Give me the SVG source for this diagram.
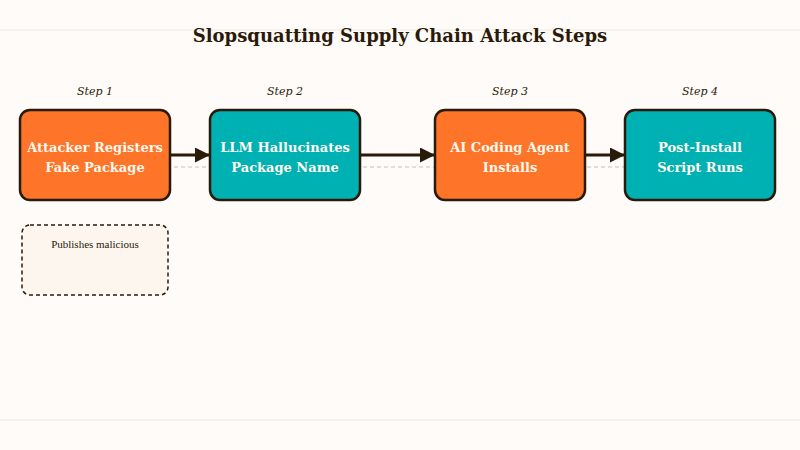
<svg xmlns="http://www.w3.org/2000/svg" width="800" height="450" viewBox="0 0 800 450">
<defs>
<marker id="ah" viewBox="0 0 10 10" refX="10" refY="5" markerWidth="5" markerHeight="5" orient="auto" markerUnits="strokeWidth"><path d="M0,0 L10,5 L0,10 z" fill="#2a1a0a"/></marker>
</defs>
<style>
.box{stroke:#2a1a0a;stroke-width:2.5}
.o{fill:#fe7429}.t{fill:#00b1b3}
.lbl{font-family:"DejaVu Serif","Liberation Serif",serif;font-weight:bold;font-size:13px;fill:#fff8ee;text-anchor:middle}
.step{font-family:"DejaVu Serif","Liberation Serif",serif;font-style:italic;font-size:11px;fill:#2a1a0a;text-anchor:middle}
.conn{stroke:#2a1a0a;stroke-width:3;fill:none;marker-end:url(#ah)}
</style>
<rect width="800" height="450" fill="#fffbf8"/>
<line x1="0" y1="30" x2="800" y2="30" stroke="#efe8df"/>
<line x1="0" y1="420" x2="800" y2="420" stroke="#efe8df"/>
<text x="400" y="42" font-family="DejaVu Serif,Liberation Serif,serif" font-weight="bold" font-size="18" fill="#2a1a0a" text-anchor="middle">Slopsquatting Supply Chain Attack Steps</text>
<line x1="20" y1="167" x2="775" y2="167" stroke="#c8c0b8" stroke-dasharray="4,3"/>
<g id="connectors">
<line class="conn" x1="170" y1="155" x2="210" y2="155"/>
<line class="conn" x1="360" y1="155" x2="435" y2="155"/>
<line class="conn" x1="585" y1="155" x2="625" y2="155"/>
</g>
<g id="n1"><text class="step" x="95" y="95">Step 1</text><rect class="box o" x="20" y="110" width="150" height="90" rx="10"/><text class="lbl" x="95" y="152">Attacker Registers</text><text class="lbl" x="95" y="172">Fake Package</text></g>
<g id="n2"><text class="step" x="285" y="95">Step 2</text><rect class="box t" x="210" y="110" width="150" height="90" rx="10"/><text class="lbl" x="285" y="152">LLM Hallucinates</text><text class="lbl" x="285" y="172">Package Name</text></g>
<g id="n3"><text class="step" x="510" y="95">Step 3</text><rect class="box o" x="435" y="110" width="150" height="90" rx="10"/><text class="lbl" x="510" y="152">AI Coding Agent</text><text class="lbl" x="510" y="172">Installs</text></g>
<g id="n4"><text class="step" x="700" y="95">Step 4</text><rect class="box t" x="625" y="110" width="150" height="90" rx="10"/><text class="lbl" x="700" y="152">Post-Install</text><text class="lbl" x="700" y="172">Script Runs</text></g>
<g id="note"><rect x="22" y="225" width="146" height="70" rx="8" fill="#fdf6ee" stroke="#2a1a0a" stroke-width="1.5" stroke-dasharray="4,3"/><text x="95" y="248" font-family="Liberation Serif,serif" font-size="11" fill="#2a1a0a" text-anchor="middle">Publishes malicious</text></g>
</svg>
